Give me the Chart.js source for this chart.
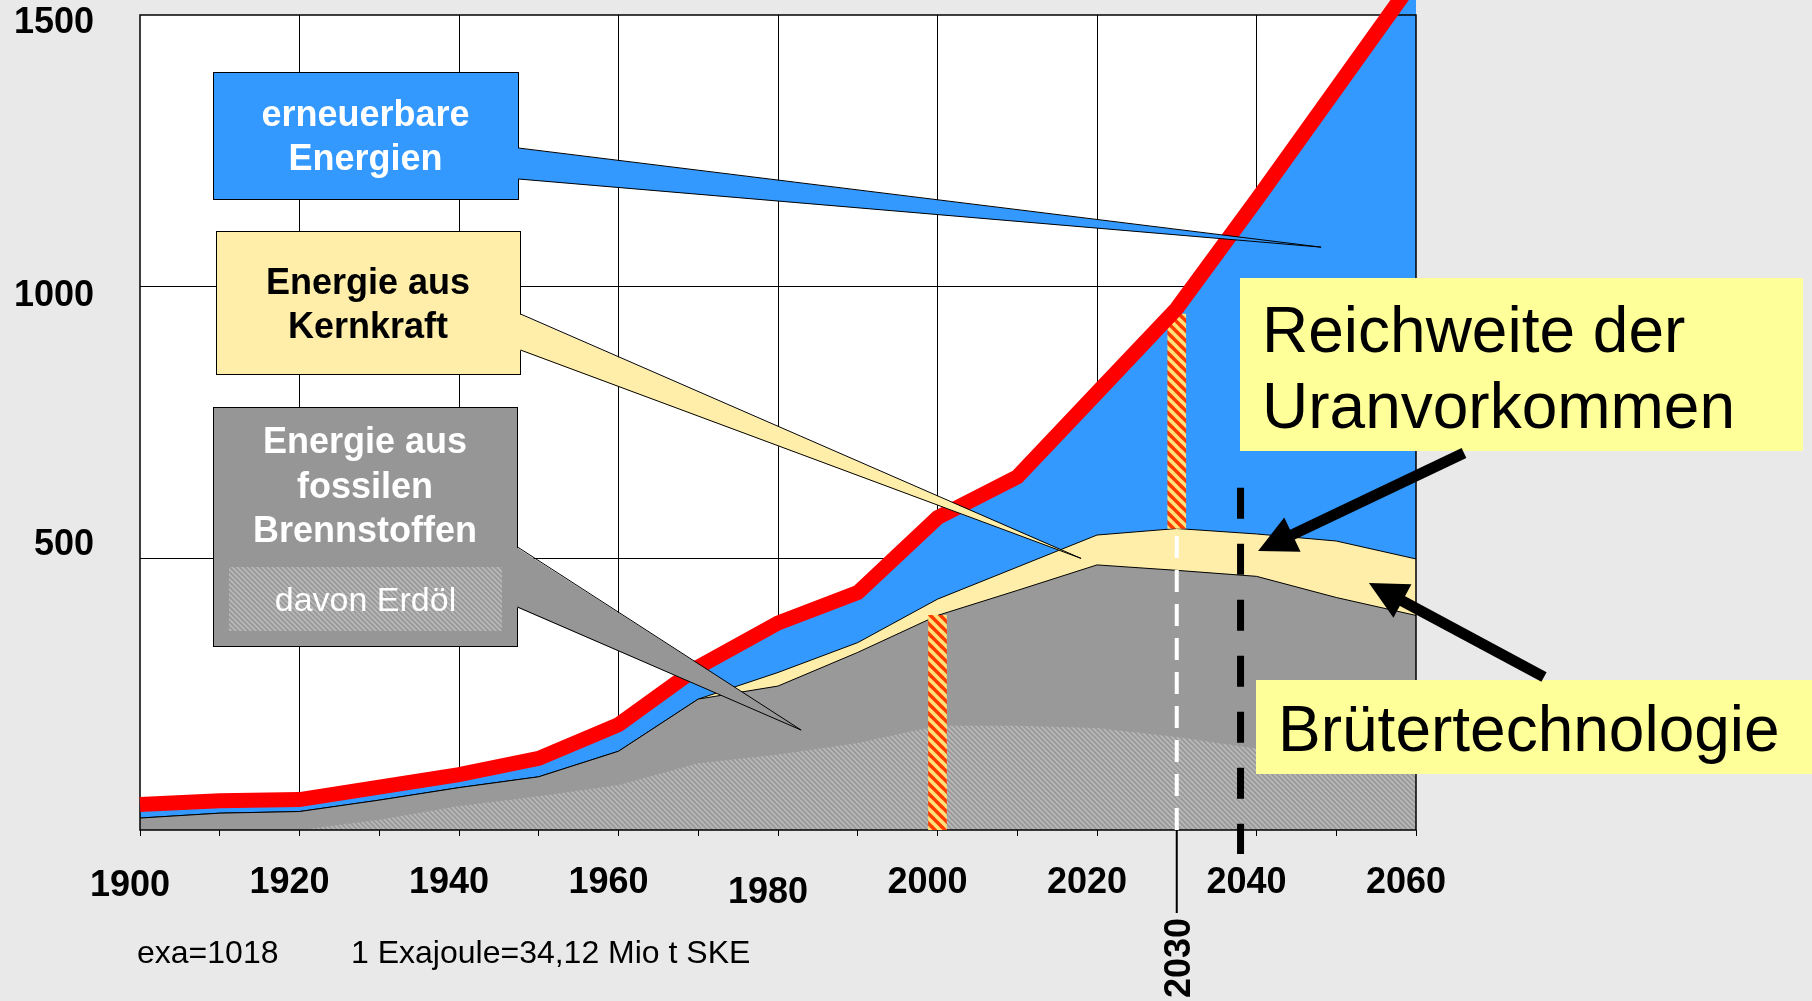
<!DOCTYPE html>
<html lang="de">
<head>
<meta charset="utf-8">
<title>Energiebedarf 1900–2060</title>
<script src="https://cdn.jsdelivr.net/npm/chart.js@4.4.1/dist/chart.umd.min.js"></script>
<style>
  html, body { margin: 0; padding: 0; background: #e9e9e9; overflow: hidden; }
  canvas { display: block; }
</style>
</head>
<body>
<canvas id="energy-chart" width="1812" height="1001"></canvas>
<script>
// Exajoule pro Jahr
const years     = [1900, 1910, 1920, 1930, 1940, 1950, 1960, 1970, 1980, 1990, 2000, 2010, 2020, 2030, 2040, 2050, 2060];
const fossil    = [22, 31, 34, 55, 78, 98, 145, 241, 265, 327, 395, 441, 488, 478, 467, 428, 395];
const oil       = [0, 0, 0, 19, 44, 62, 83, 123, 139, 160, 192, 192, 188, 171, 150, 132, 118];
const nuclear   = [0, 0, 0, 0, 0, 0, 0, 0, 25, 18, 30, 43, 55, 77, 78, 104, 104];
const renewable = [25, 23, 22, 24, 24, 34, 49, 59, 91, 92, 150, 166, 262, 405, 615, 833, 1071];

const xLabelYears = [1900, 1920, 1940, 1960, 1980, 2000, 2020, 2040, 2060];
const yTickValues = [500, 1000, 1500];

// markers
const stripeYears = [2000, 2030];
const stripeLow   = [0, 555];
const stripeHigh  = [395, 950];
const markYear = 2030;
const markSpan = [0, 555];
const markStub = [0, -153];
const uranYear = 2038;
const uranSpan = [630, -44];

const FONT = '"Liberation Sans", Arial, Helvetica, sans-serif';
const PAGE_BG = '#e9e9e9';

const nuclearTop = fossil.map((v, i) => v + nuclear[i]);
const totalTop = nuclearTop.map((v, i) => v + renewable[i]);
const pts = arr => years.map((x, i) => ({ x, y: arr[i] }));

function makeHatch(base, line, size, width) {
  const c = document.createElement('canvas');
  c.width = c.height = size;
  const g = c.getContext('2d');
  g.fillStyle = base;
  g.fillRect(0, 0, size, size);
  g.strokeStyle = line;
  g.lineWidth = width;
  for (let k = -1; k <= 1; k++) {
    g.beginPath();
    g.moveTo(-1, k * size - 1);
    g.lineTo(size + 1, size + k * size + 1);
    g.stroke();
  }
  return g.createPattern(c, 'repeat');
}

const ctx0 = document.getElementById('energy-chart').getContext('2d');
const oilHatch = makeHatch('#999999', '#b9b9b9', 5, 1.6);
const stripeFill = makeHatch('#ff3c00', '#ffe27a', 10, 3.6);

const OIL_INDEX = 5;

const backdrop = {
  id: 'backdrop',
  frame(chart) {
    const x = chart.scales.x, y = chart.scales.y;
    return {
      l: Math.round(x.getPixelForValue(1900)), r: Math.round(x.getPixelForValue(2060)),
      t: Math.round(y.getPixelForValue(1500)), b: Math.round(y.getPixelForValue(0))
    };
  },
  beforeDraw(chart) {
    const { ctx } = chart;
    const f = this.frame(chart);
    ctx.save();
    ctx.fillStyle = PAGE_BG;
    ctx.fillRect(0, 0, chart.width, chart.height);
    ctx.fillStyle = '#ffffff';
    ctx.fillRect(f.l, f.t, f.r - f.l, f.b - f.t);
    ctx.restore();
  },
  beforeDatasetsDraw(chart) {
    const { ctx } = chart;
    const f = this.frame(chart);
    ctx.save();
    ctx.fillStyle = PAGE_BG;
    ctx.fillRect(f.l - 2, 0, f.r - f.l + 4, f.t);
    ctx.restore();
  },
  afterDatasetDraw(chart, args) {
    if (args.index !== OIL_INDEX) return;
    const { ctx } = chart;
    const f = this.frame(chart);
    ctx.save();
    ctx.strokeStyle = '#000';
    ctx.lineWidth = 1.5;
    ctx.strokeRect(f.l, f.t, f.r - f.l, f.b - f.t);
    ctx.restore();
  }
};

// callout boxes (pixel layout), tips point at data coordinates
const boxes = [
  { rect: [213, 72, 518, 199], fill: '#3399ff', color: '#fff', font: 'bold 36px', lines: ['erneuerbare', 'Energien'], base: [126, 170], wedge: [148, 179], tip: [2048.1, 1073] },
  { rect: [216, 231, 520, 374], fill: '#ffeeaa', color: '#000', font: 'bold 36px', lines: ['Energie aus', 'Kernkraft'], base: [294, 338], wedge: [314, 350], tip: [2018, 500] },
  { rect: [213, 407, 517, 646], fill: '#969696', color: '#fff', font: 'bold 36px', lines: ['Energie aus', 'fossilen', 'Brennstoffen'], base: [453, 498, 542], wedge: [547, 607], tip: [1982.9, 184] }
];
const notes = [
  { rect: [1240, 278, 1803, 451], lines: ['Reichweite der', 'Uranvorkommen'], left: 1262, base: [352, 428], from: [1464, 453], to: [2040.2, 513.6] },
  { rect: [1256, 680, 1812, 774], lines: ['Brütertechnologie'], left: 1278, base: [751], from: [1544, 677], to: [2054.1, 454.7] }
];

function drawArrow(ctx, x0, y0, x1, y1) {
  const a = Math.atan2(y1 - y0, x1 - x0);
  const head = 38, half = 19;
  const bx = x1 - head * Math.cos(a), by = y1 - head * Math.sin(a);
  ctx.strokeStyle = '#000';
  ctx.fillStyle = '#000';
  ctx.lineWidth = 11;
  ctx.lineCap = 'butt';
  ctx.beginPath();
  ctx.moveTo(x0, y0);
  ctx.lineTo(bx + 4 * Math.cos(a), by + 4 * Math.sin(a));
  ctx.stroke();
  ctx.beginPath();
  ctx.moveTo(x1, y1);
  ctx.lineTo(bx + half * Math.sin(a), by - half * Math.cos(a));
  ctx.lineTo(bx - half * Math.sin(a), by + half * Math.cos(a));
  ctx.closePath();
  ctx.fill();
}

const callouts = {
  id: 'callouts',
  afterDraw(chart) {
    const { ctx } = chart;
    const sx = chart.scales.x, sy = chart.scales.y;
    ctx.save();

    boxes.forEach((b, n) => {
      const [x0, y0, x1, y1] = b.rect;
      ctx.fillStyle = b.fill;
      ctx.fillRect(x0, y0, x1 - x0, y1 - y0);
      ctx.strokeStyle = '#000';
      ctx.lineWidth = 1;
      ctx.strokeRect(x0 + 0.5, y0 + 0.5, x1 - x0, y1 - y0);
      const tx = sx.getPixelForValue(b.tip[0]), ty = sy.getPixelForValue(b.tip[1]);
      ctx.beginPath();
      ctx.moveTo(x1 - 1, b.wedge[0]);
      ctx.lineTo(tx, ty);
      ctx.lineTo(x1 - 1, b.wedge[1]);
      ctx.closePath();
      ctx.fill();
      ctx.beginPath();
      ctx.moveTo(x1 + 0.5, b.wedge[0]);
      ctx.lineTo(tx, ty);
      ctx.lineTo(x1 + 0.5, b.wedge[1]);
      ctx.stroke();
      ctx.fillStyle = b.color;
      ctx.font = `${b.font} ${FONT}`;
      ctx.textAlign = 'center';
      ctx.textBaseline = 'alphabetic';
      b.lines.forEach((t, i) => ctx.fillText(t, (x0 + x1) / 2, b.base[i]));
      if (n === 2) {
        ctx.fillStyle = oilHatch;
        ctx.fillRect(229, 567, 273, 64);
        ctx.fillStyle = '#fff';
        ctx.font = `34px ${FONT}`;
        ctx.fillText('davon Erdöl', 365.5, 611);
      }
    });

    notes.forEach(nb => {
      const [x0, y0, x1, y1] = nb.rect;
      ctx.fillStyle = '#ffff99';
      ctx.fillRect(x0, y0, x1 - x0, y1 - y0);
      ctx.fillStyle = '#000';
      ctx.font = `64px ${FONT}`;
      ctx.textAlign = 'left';
      ctx.textBaseline = 'alphabetic';
      nb.lines.forEach((t, i) => ctx.fillText(t, nb.left, nb.base[i]));
      drawArrow(ctx, nb.from[0], nb.from[1], sx.getPixelForValue(nb.to[0]), sy.getPixelForValue(nb.to[1]));
    });

    // rotated year under the marker line
    ctx.save();
    ctx.translate(sx.getPixelForValue(markYear) + 13, 958);
    ctx.rotate(-Math.PI / 2);
    ctx.fillStyle = '#000';
    ctx.font = `bold 36px ${FONT}`;
    ctx.textAlign = 'center';
    ctx.textBaseline = 'alphabetic';
    ctx.fillText(String(markYear), 0, 0);
    ctx.restore();

    ctx.fillStyle = '#000';
    ctx.font = `32px ${FONT}`;
    ctx.textAlign = 'left';
    ctx.fillText('exa=1018', 137, 963);
    ctx.fillText('1 Exajoule=34,12 Mio t SKE', 351, 963);
    ctx.restore();
  }
};

const noLine = 'rgba(0,0,0,0)';
const xLineHeight = { 1900: 0.461, 1980: 0.585 };
const yLineHeight = { 500: 0.722, 1000: 0.5, 1500: 0.444 };

new Chart(ctx0, {
  type: 'line',
  data: {
    datasets: [
      { label: 'Gesamt', data: pts(totalTop), borderColor: '#ff0000', borderWidth: 15, fill: false, pointRadius: 0, clip: false, order: 0 },
      { label: 'Reichweite', data: uranSpan.map(y => ({ x: uranYear, y })), borderColor: '#000', borderWidth: 7, borderDash: [31, 25], pointRadius: 0, clip: false, order: 1 },
      { label: 'Marke', data: markStub.map(y => ({ x: markYear, y })), borderColor: '#000', borderWidth: 2, pointRadius: 0, clip: false, order: 1 },
      { label: 'Marke gestrichelt', data: markSpan.map(y => ({ x: markYear, y })), borderColor: '#fff', borderWidth: 4, borderDash: [22, 12], pointRadius: 0, order: 2 },
      { type: 'bar', label: 'Zeitmarken', data: stripeYears.map((x, i) => ({ x, y: [stripeLow[i], stripeHigh[i]] })), backgroundColor: stripeFill, borderWidth: 0, barThickness: 18, order: 3 },
      { label: 'davon Erdöl', data: pts(oil), fill: 'origin', backgroundColor: oilHatch, borderColor: noLine, borderWidth: 0, pointRadius: 0, order: 5 },
      { label: 'fossil', data: pts(fossil), fill: 'origin', backgroundColor: '#999999', borderColor: '#000', borderWidth: 1, pointRadius: 0, order: 6 },
      { label: 'Kernkraft', data: pts(nuclearTop), fill: 'origin', backgroundColor: '#ffeeaa', borderColor: '#000', borderWidth: 1, pointRadius: 0, order: 7 },
      { label: 'erneuerbar', data: pts(totalTop), fill: 'origin', backgroundColor: '#3399ff', borderColor: noLine, borderWidth: 0, pointRadius: 0, order: 8 }
    ]
  },
  options: {
    responsive: false,
    animation: false,
    events: [],
    layout: { autoPadding: false, padding: { left: 0, top: 0, right: 396, bottom: 0 } },
    plugins: { legend: { display: false }, tooltip: { enabled: false } },
    scales: {
      x: {
        type: 'linear',
        min: 1900,
        max: 2060,
        offset: false,
        border: { display: false },
        afterBuildTicks: axis => { axis.ticks = years.map(v => ({ value: v })); },
        afterFit: s => { s.height = 171; s.paddingLeft = 0; s.paddingRight = 0; },
        grid: {
          offset: false,
          drawTicks: true,
          tickLength: 6,
          tickColor: '#000',
          lineWidth: 1,
          color: c => (c.tick && c.tick.value % 20 === 0 && c.tick.value > 1900 && c.tick.value < 2060) ? '#000' : noLine
        },
        ticks: {
          autoSkip: false,
          maxRotation: 0,
          padding: 25,
          labelOffset: -10,
          color: '#000',
          font: c => ({ family: FONT, size: 36, weight: 'bold', lineHeight: (c.tick && xLineHeight[c.tick.value]) || 1.2 }),
          callback: v => {
            if (!xLabelYears.includes(v)) return '';
            return xLineHeight[v] ? ['', String(v)] : String(v);
          }
        }
      },
      y: {
        min: 0,
        max: 1528,
        border: { display: false },
        afterBuildTicks: axis => { axis.ticks = yTickValues.map(v => ({ value: v })); },
        afterFit: s => { s.width = 140; s.paddingTop = 0; s.paddingBottom = 0; },
        grid: {
          drawTicks: false,
          lineWidth: 1,
          color: c => (c.tick && c.tick.value < 1500) ? '#000' : noLine
        },
        ticks: {
          padding: 46,
          color: '#000',
          font: c => ({ family: FONT, size: 36, weight: 'bold', lineHeight: (c.tick && yLineHeight[c.tick.value]) || 1.2 }),
          callback: v => v === 500 ? [String(v), ''] : ['', String(v)]
        }
      }
    }
  },
  plugins: [backdrop, callouts]
});
</script>
</body>
</html>
